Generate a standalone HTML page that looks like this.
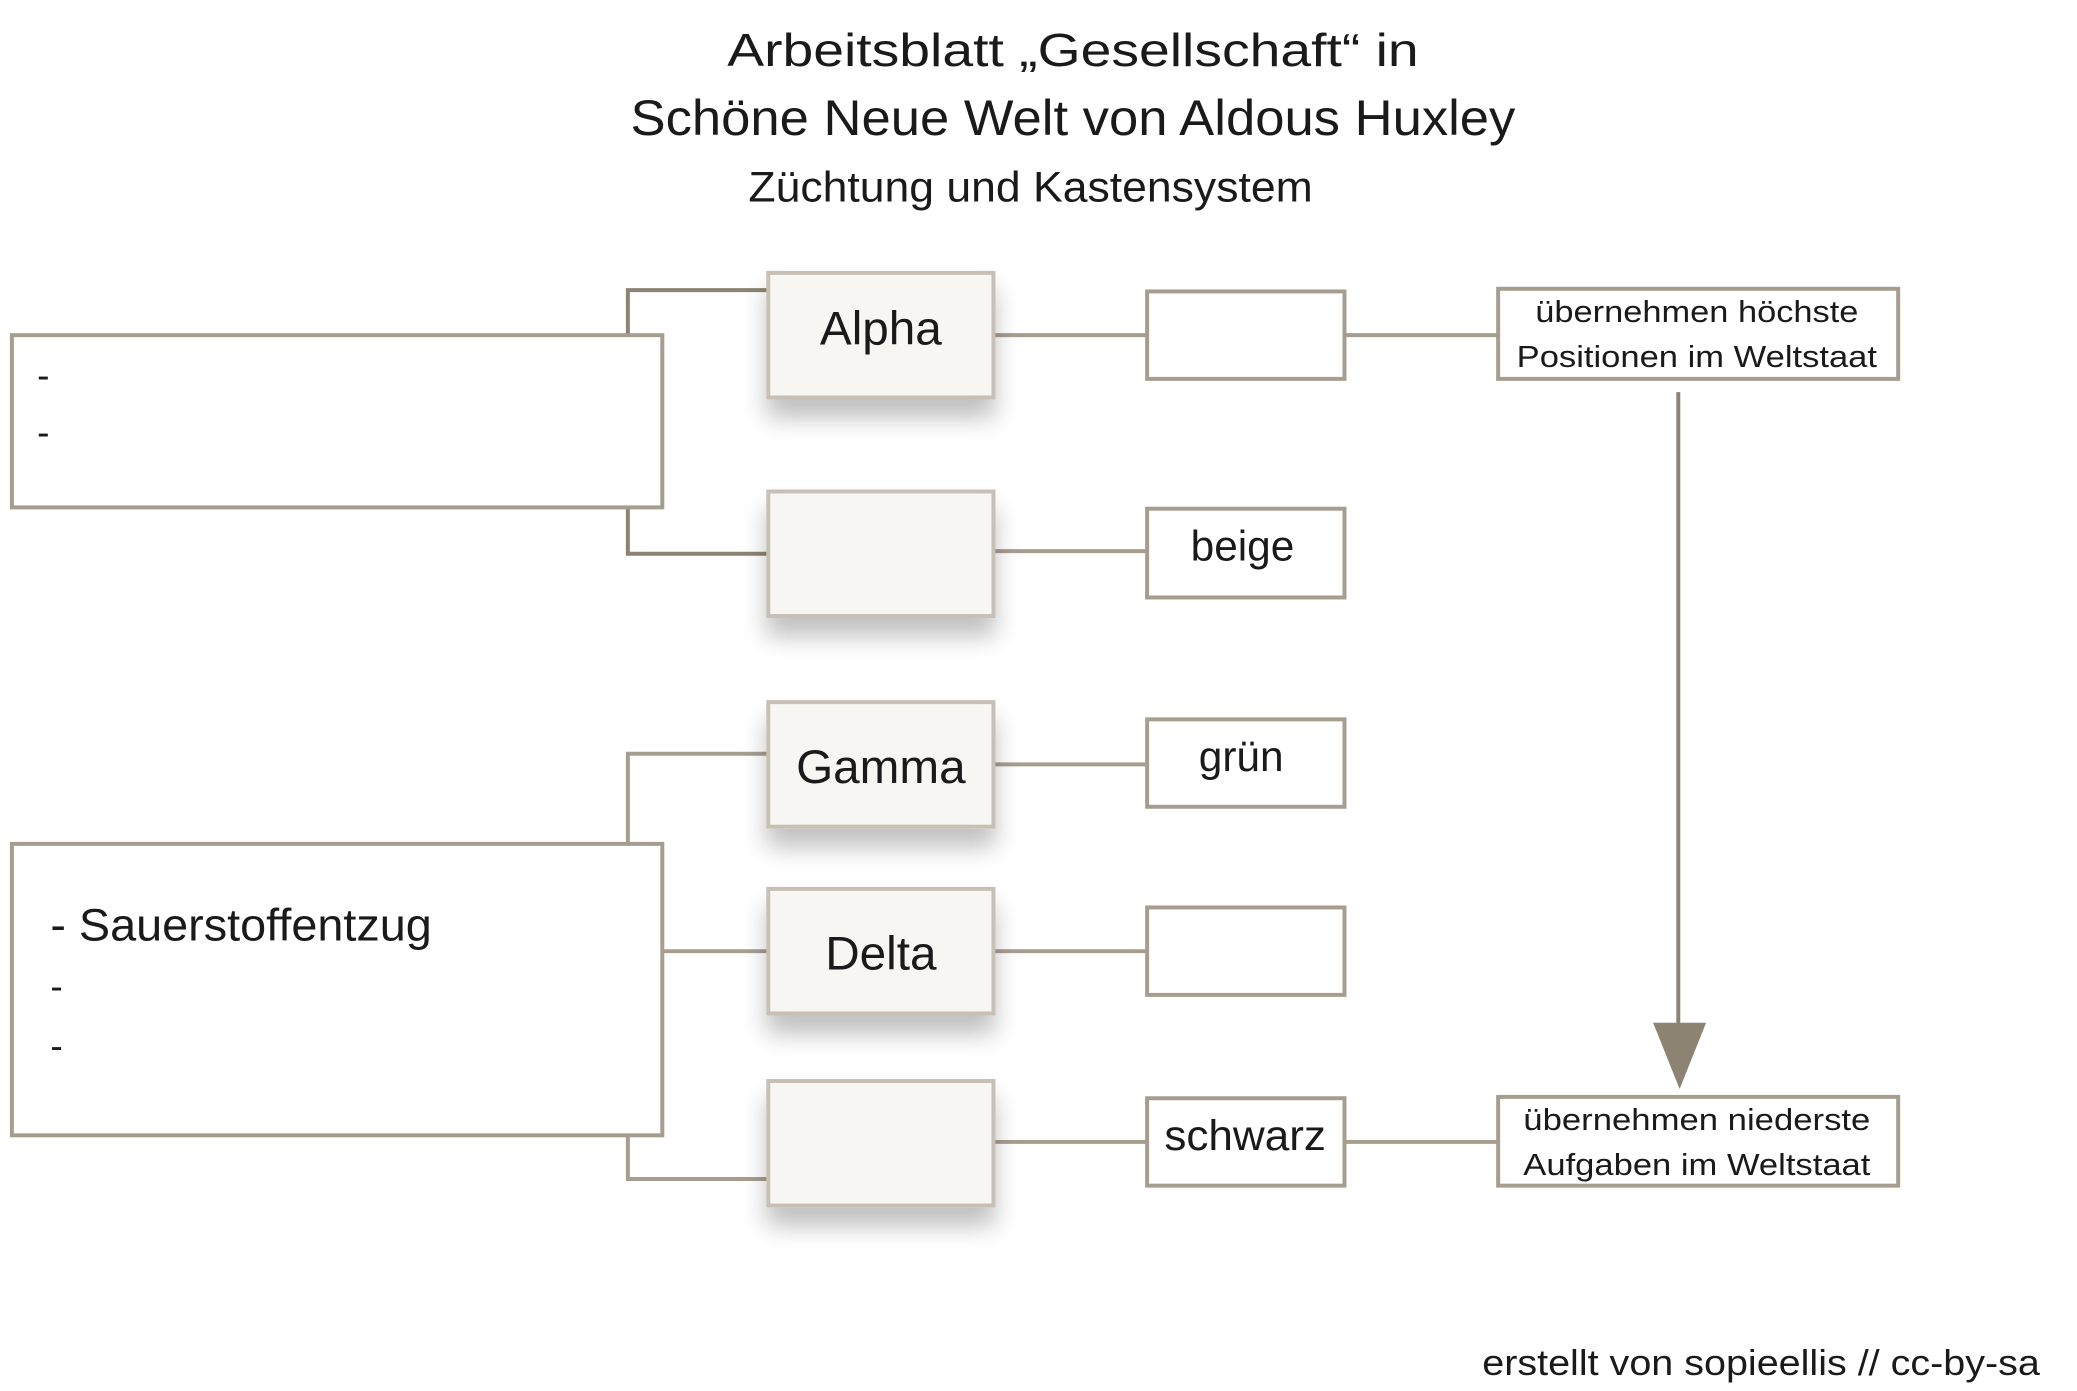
<!DOCTYPE html>
<html><head><meta charset="utf-8"><style>
html,body{margin:0;padding:0;background:#fff;}
svg{display:block;}
text{font-family:"Liberation Sans",sans-serif;fill:#1a1a1a;}
</style></head><body>
<svg width="2077" height="1391" viewBox="0 0 1568 1050" preserveAspectRatio="none" xmlns="http://www.w3.org/2000/svg">
<defs>
<filter id="sh" x="-30%" y="-30%" width="160%" height="180%">
<feGaussianBlur in="SourceAlpha" stdDeviation="9"/>
<feOffset dx="0" dy="14" result="b"/>
<feComponentTransfer><feFuncA type="linear" slope="0.25"/></feComponentTransfer>
<feMerge><feMergeNode/><feMergeNode in="SourceGraphic"/></feMerge>
</filter>
</defs>
<text x="810" y="50" font-size="35" text-anchor="middle" textLength="522" lengthAdjust="spacingAndGlyphs">Arbeitsblatt „Gesellschaft“  in</text>
<text x="810" y="102" font-size="38" text-anchor="middle" textLength="668" lengthAdjust="spacingAndGlyphs">Schöne Neue Welt von Aldous Huxley</text>
<text x="778" y="152" font-size="32" text-anchor="middle" textLength="426" lengthAdjust="spacingAndGlyphs">Züchtung und Kastensystem</text>

<g fill="none" stroke="#a69d8f" stroke-width="3">
<polyline points="474,253 474,219 580,219" stroke="#8c8373"/>
<polyline points="474,383 474,418 580,418" stroke="#8c8373"/>
<polyline points="474,637 474,569 580,569"/>
<line x1="500" y1="718" x2="580" y2="718"/>
<polyline points="474,857 474,890 580,890"/>
<line x1="750" y1="253" x2="866" y2="253"/>
<line x1="750" y1="416" x2="866" y2="416"/>
<line x1="750" y1="577" x2="866" y2="577"/>
<line x1="750" y1="718" x2="866" y2="718"/>
<line x1="750" y1="862" x2="866" y2="862"/>
<line x1="1015" y1="253" x2="1131" y2="253"/>
<line x1="1015" y1="862" x2="1131" y2="862"/>
<rect x="9" y="253" width="491" height="130" fill="#fff"/>
<rect x="9" y="637" width="491" height="220" fill="#fff"/>
<rect x="866" y="220" width="149" height="66" fill="#fff"/>
<rect x="866" y="384" width="149" height="67" fill="#fff"/>
<rect x="866" y="543" width="149" height="66" fill="#fff"/>
<rect x="866" y="685" width="149" height="66" fill="#fff"/>
<rect x="866" y="829" width="149" height="66" fill="#fff"/>
<rect x="1131" y="218" width="302" height="68" fill="#fff"/>
<rect x="1131" y="828" width="302" height="67" fill="#fff"/>
</g>
<g fill="#f7f6f3" stroke="#c8c0b6" stroke-width="3" filter="url(#sh)">
<rect x="580" y="206" width="170" height="94"/>
<rect x="580" y="371" width="170" height="94"/>
<rect x="580" y="530" width="170" height="94"/>
<rect x="580" y="671" width="170" height="94"/>
<rect x="580" y="816" width="170" height="94"/>
</g>
<line x1="1267" y1="296" x2="1267" y2="776" stroke="#8c8373" stroke-width="3"/>
<polygon points="1248,772 1288,772 1268,822" fill="#8c8373"/>

<text x="665" y="260" font-size="36" text-anchor="middle">Alpha</text>
<text x="665" y="591" font-size="36" text-anchor="middle">Gamma</text>
<text x="665" y="732" font-size="36" text-anchor="middle">Delta</text>
<text x="938" y="423" font-size="32" text-anchor="middle">beige</text>
<text x="937" y="582" font-size="32" text-anchor="middle">grün</text>
<text x="940" y="868" font-size="32" text-anchor="middle" textLength="122" lengthAdjust="spacingAndGlyphs">schwarz</text>
<text x="1281" y="243" font-size="23" text-anchor="middle" textLength="244" lengthAdjust="spacingAndGlyphs">übernehmen höchste</text>
<text x="1281" y="277" font-size="23" text-anchor="middle" textLength="272" lengthAdjust="spacingAndGlyphs">Positionen im Weltstaat</text>
<text x="1281" y="853" font-size="23" text-anchor="middle" textLength="262" lengthAdjust="spacingAndGlyphs">übernehmen niederste</text>
<text x="1281" y="887" font-size="23" text-anchor="middle" textLength="262" lengthAdjust="spacingAndGlyphs">Aufgaben im Weltstaat</text>
<text x="28" y="293" font-size="28">-</text>
<text x="28" y="336" font-size="28">-</text>
<text x="38" y="710" font-size="34" textLength="288" lengthAdjust="spacingAndGlyphs">- Sauerstoffentzug</text>
<text x="38" y="754" font-size="28">-</text>
<text x="38" y="799" font-size="28">-</text>
<text x="1540" y="1038" font-size="27" text-anchor="end" textLength="421" lengthAdjust="spacingAndGlyphs">erstellt von sopieellis  // cc-by-sa</text>
</svg>
</body></html>
